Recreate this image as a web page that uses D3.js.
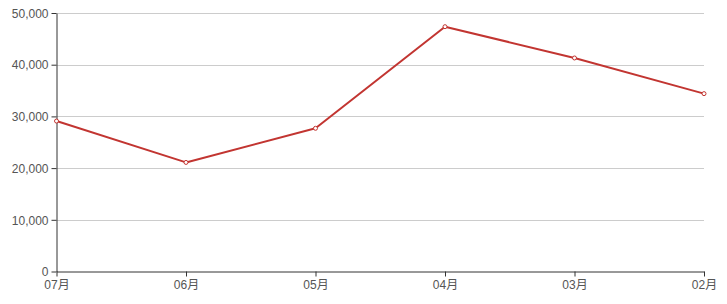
<!DOCTYPE html>
<html>
<head>
<meta charset="utf-8" />
<title>Monthly line</title>
<style>
body { margin: 0; background: #fff; }
svg text { font-family: "Liberation Sans", "Noto Sans CJK SC", sans-serif; font-size: 12px; fill: #555; }
.grid line { stroke: #ccc; }
.axis path, .axis line { stroke: #333; }
</style>
<script src="https://d3js.org/d3.v7.min.js"></script>
</head>
<body>
<svg width="727" height="304"></svg>
<script>
// data
var months = ["07月", "06月", "05月", "04月", "03月", "02月"];
var values = [29100, 21100, 27700, 47350, 41300, 34400];
var yTicks = [0, 10000, 20000, 30000, 40000, 50000];

var svg = d3.select("svg"),
    margin = {top: 13, right: 23, bottom: 32.5, left: 56.5},
    width = +svg.attr("width") - margin.left - margin.right,
    height = +svg.attr("height") - margin.top - margin.bottom;

var x = d3.scalePoint().domain(months).range([0, width]),
    y = d3.scaleLinear().domain([0, 50000]).range([height, 0]);

var g = svg.append("g")
    .attr("transform", "translate(" + margin.left + "," + margin.top + ")");

// horizontal grid
g.append("g").attr("class", "grid")
  .selectAll("line")
  .data(yTicks.slice(1))
  .enter().append("line")
    .attr("x1", 0)
    .attr("x2", width)
    .attr("y1", function(d) { return Math.round(y(d)) + 0.5; })
    .attr("y2", function(d) { return Math.round(y(d)) + 0.5; });

g.append("g")
    .attr("class", "axis axis--y")
    .call(d3.axisLeft(y).tickValues(yTicks).tickSize(5).tickSizeOuter(0).tickPadding(3)
      .tickFormat(d3.format(",")));

g.append("g")
    .attr("class", "axis axis--x")
    .attr("transform", "translate(0," + height + ")")
    .call(d3.axisBottom(x).tickSize(5).tickSizeOuter(0).tickPadding(4));

g.selectAll(".axis text").style("font-size", "12px");
g.selectAll(".axis--y text").attr("dy", "0.35em");

var line = d3.line()
    .x(function(d, i) { return x(months[i]); })
    .y(function(d) { return y(d); });

g.append("path")
    .datum(values)
    .attr("fill", "none")
    .attr("stroke", "#c23531")
    .attr("stroke-width", 2)
    .attr("stroke-linejoin", "round")
    .attr("d", line);

g.selectAll(".dot")
    .data(values)
  .enter().append("circle")
    .attr("class", "dot")
    .attr("cx", function(d, i) { return x(months[i]); })
    .attr("cy", function(d) { return y(d); })
    .attr("r", 2)
    .attr("fill", "#fff")
    .attr("stroke", "#c23531")
    .attr("stroke-width", 1);
</script>
</body>
</html>
